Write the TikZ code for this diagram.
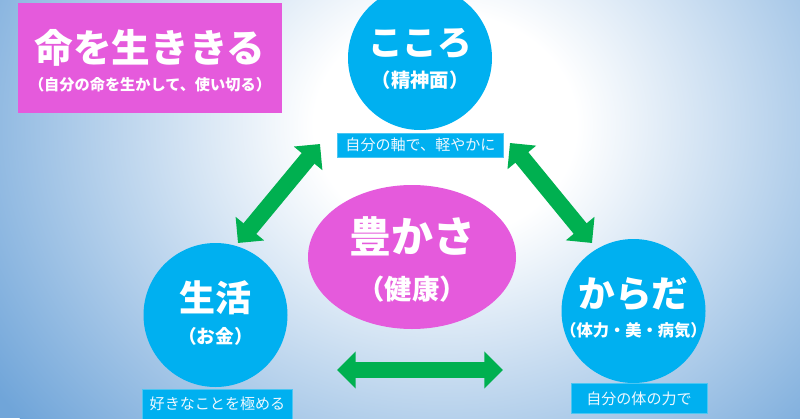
\documentclass[tikz,border=0pt]{standalone}
\usepackage{fontspec}
\newfontfamily\jp{Noto Sans CJK JP}
\usetikzlibrary{arrows.meta,shapes.geometric}
\definecolor{cblue}{HTML}{00B0F0}
\definecolor{lblue}{HTML}{4CC6F2}
\definecolor{cpink}{HTML}{E55ADC}
\definecolor{cgreen}{HTML}{00B050}
\definecolor{bgblue}{HTML}{70A5D9}
\definecolor{ltext}{HTML}{EEF8FF}
\pgfdeclareradialshading{bgshade}{\pgfpoint{0bp}{0bp}}{color(0bp)=(white); color(6bp)=(white); color(25bp)=(bgblue); color(50bp)=(bgblue)}
\begin{document}
\begin{tikzpicture}[x=0.75pt,y=-0.75pt,
  bubble/.style={circle,fill=cblue,minimum size=108pt,inner sep=0pt},
  tagbox/.style={rectangle,fill=cblue,draw=lblue,line width=0.6pt,inner sep=0pt,text=ltext,font=\jp\fontsize{11.3pt}{13pt}\selectfont},
  wtext/.style={text=white,inner sep=0pt,font=\jp\bfseries\fontsize{#1}{#1}\selectfont},
  bigarrow/.style={draw=cgreen,line width=12.5pt,{Triangle[width=27pt,length=14pt]}-{Triangle[width=27pt,length=14pt]}}]
\useasboundingbox (0,0) rectangle (800,418);
\begin{scope}
\clip (0,0) rectangle (800,418);
\fill[bgblue] (0,0) rectangle (800,418);
\shade[shading=bgshade] (445,125) ellipse [x radius=410pt, y radius=350pt];
\end{scope}

% title box
\node[rectangle,fill=cpink,minimum width=198pt,minimum height=82.5pt,inner sep=0pt] (title) at (150,58) {};
\node[wtext=29pt] (t1) at (150,48) {命を生ききる};
\node[wtext=11.4pt] (t2) at (150,85) {（自分の命を生かして、使い切る）};

% circles
\node[bubble] (kokoro) at (420,58) {};
\node[wtext=26pt] (k1) at (420,44) {こころ};
\node[wtext=14.5pt] (k2) at (420,80) {（精神面）};
\node[tagbox,minimum width=125pt,minimum height=18pt] (kl) at (420.5,145) {自分の軸で、軽やかに};

\node[bubble] (seikatsu) at (215.5,315) {};
\node[wtext=27pt] (s1) at (215.5,298) {生活};
\node[wtext=14pt] (s2) at (215.5,336) {（お金）};
\node[tagbox,minimum width=112pt,minimum height=22.5pt] (sl) at (217.5,404) {好きなことを極める};

\node[bubble] (karada) at (633.5,311) {};
\node[wtext=27.5pt] (c1) at (633.5,294) {からだ};
\node[wtext=12.2pt] (c2) at (633.5,330) {（体力・美・病気）};
\node[tagbox,minimum width=102pt,minimum height=22pt] (cl) at (639,398.5) {自分の体の力で};

% center ellipse
\node[ellipse,fill=cpink,minimum width=156pt,minimum height=108pt,inner sep=0pt] (yutaka) at (412,257) {};
\node[wtext=31.5pt] (y1) at (412,236) {豊かさ};
\node[wtext=20.5pt] (y2) at (412,289) {（健康）};

% arrows
\coordinate (a1s) at (238,243);
\coordinate (a1e) at (320,144);
\coordinate (a2s) at (510,143);
\coordinate (a2e) at (592,243);
\coordinate (a3s) at (337,370);
\coordinate (a3e) at (503,370);
\draw[bigarrow] (a1s) -- (a1e);
\draw[bigarrow] (a2s) -- (a2e);
\draw[bigarrow] (a3s) -- (a3e);
\end{tikzpicture}
\end{document}
